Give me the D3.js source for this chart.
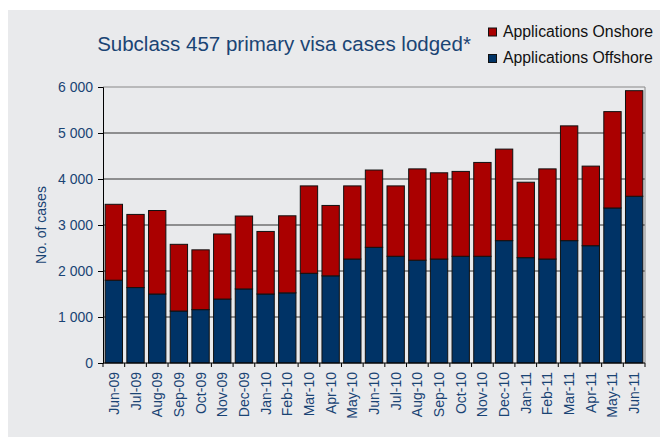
<!DOCTYPE html>
<html>
<head>
<meta charset="utf-8">
<script src="https://cdn.jsdelivr.net/npm/d3@7"></script>
<style>
  body { margin: 0; background: #fff; }
  svg { display: block; font-family: "Liberation Sans", Arial, sans-serif; }
</style>
</head>
<body>
<svg id="chart" width="660" height="437"></svg>
<script>
const months = ["Jun-09","Jul-09","Aug-09","Sep-09","Oct-09","Nov-09","Dec-09","Jan-10","Feb-10","Mar-10","Apr-10","May-10","Jun-10","Jul-10","Aug-10","Sep-10","Oct-10","Nov-10","Dec-10","Jan-11","Feb-11","Mar-11","Apr-11","May-11","Jun-11"];
const offshore = [1800,1640,1500,1130,1160,1390,1610,1500,1525,1950,1895,2260,2515,2320,2235,2260,2320,2320,2660,2290,2260,2660,2550,3370,3625];
const onshore = [1650,1590,1815,1450,1300,1415,1585,1360,1675,1900,1530,1590,1680,1530,1985,1875,1845,2040,1990,1640,1960,2495,1730,2095,2295];
const yTicks = [0,1000,2000,3000,4000,5000,6000];
const seriesNames = ["Applications Offshore","Applications Onshore"];

const textColor = "#1a4474";
const colors = { "Applications Offshore": "#003366", "Applications Onshore": "#aa0000" };

const svg = d3.select("#chart");

// panel background
svg.append("rect").attr("x", 8).attr("y", 10).attr("width", 652).attr("height", 427).attr("fill", "#e9eaec");

const margin = { top: 87, right: 15, bottom: 74, left: 103 };
const width = 660, height = 437;

const x = d3.scaleBand().domain(months).range([margin.left, width - margin.right]).paddingInner(0.2).paddingOuter(0.1);
const y = d3.scaleLinear().domain([0, 6000]).range([height - margin.bottom, margin.top]);

// gridlines
svg.append("g")
  .selectAll("line")
  .data(yTicks.filter(d => d > 0))
  .join("line")
  .attr("x1", margin.left).attr("x2", width - margin.right)
  .attr("y1", d => y(d)).attr("y2", d => y(d))
  .attr("stroke", d => d === 6000 ? "#888" : "#333")
  .attr("stroke-width", 1);

// right border
svg.append("line")
  .attr("x1", width - margin.right).attr("x2", width - margin.right)
  .attr("y1", y(6000)).attr("y2", y(0))
  .attr("stroke", "#888");

// stacked bars
const rows = months.map((m, i) => ({ month: m, "Applications Offshore": offshore[i], "Applications Onshore": onshore[i] }));
const stacked = d3.stack().keys(seriesNames)(rows);

svg.append("g")
  .selectAll("g")
  .data(stacked)
  .join("g")
  .attr("fill", d => colors[d.key])
  .selectAll("rect")
  .data(d => d)
  .join("rect")
  .attr("x", d => x(d.data.month))
  .attr("y", d => y(d[1]))
  .attr("width", x.bandwidth())
  .attr("height", d => y(d[0]) - y(d[1]))
  .attr("stroke", "#111")
  .attr("stroke-width", 1);

// y axis
const yAxis = svg.append("g")
  .attr("transform", `translate(${margin.left},0)`)
  .call(d3.axisLeft(y).tickValues(yTicks).tickSize(5).tickPadding(5)
    .tickFormat(d => d3.format(",")(d).replace(",", " ")));
yAxis.select(".domain").attr("stroke", "#000");
yAxis.selectAll(".tick line").attr("stroke", "#000");
yAxis.selectAll("text").attr("fill", textColor).style("font-size", "14px").style("font-family", "Liberation Sans, Arial, sans-serif");

// x axis with ticks at band boundaries
const step = x.step();
const xg = svg.append("g").attr("transform", `translate(0,${y(0)})`);
xg.append("line").attr("x1", margin.left).attr("x2", width - margin.right).attr("stroke", "#000");
xg.selectAll(".xt")
  .data(d3.range(months.length + 1))
  .join("line")
  .attr("x1", i => i === 0 ? margin.left : i === months.length ? width - margin.right : x(months[i]) - x.paddingInner() * step / 2)
  .attr("x2", i => i === 0 ? margin.left : i === months.length ? width - margin.right : x(months[i]) - x.paddingInner() * step / 2)
  .attr("y1", 0).attr("y2", 4)
  .attr("stroke", "#000");
xg.selectAll("text")
  .data(months)
  .join("text")
  .attr("transform", d => `translate(${x(d) + x.bandwidth() / 2 + 5},9) rotate(-90)`)
  .attr("text-anchor", "end")
  .attr("fill", textColor)
  .style("font-size", "14px")
  .text(d => d);

// y axis label
svg.append("text")
  .attr("transform", "translate(46,225) rotate(-90)")
  .attr("text-anchor", "middle")
  .attr("fill", textColor)
  .style("font-size", "14px")
  .text("No. of cases");

// title
svg.append("text")
  .attr("x", 284).attr("y", 51)
  .attr("text-anchor", "middle")
  .attr("fill", textColor)
  .style("font-size", "20.5px")
  .text("Subclass 457 primary visa cases lodged*");

// legend
const legend = svg.append("g");
const legendItems = ["Applications Onshore", "Applications Offshore"];
legendItems.forEach((name, i) => {
  const ly = 28 + i * 26.5;
  legend.append("rect").attr("x", 488.5).attr("y", ly).attr("width", 8).attr("height", 8)
    .attr("fill", colors[name]).attr("stroke", "#111");
  legend.append("text").attr("x", 503).attr("y", ly + 8.5)
    .attr("fill", "#111").style("font-size", "15.8px").text(name);
});
</script>
</body>
</html>
